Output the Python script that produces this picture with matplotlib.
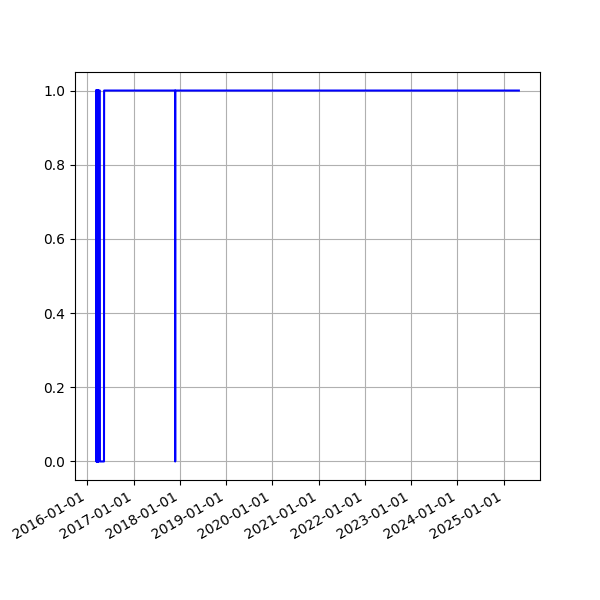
import matplotlib
matplotlib.use('Agg')
import matplotlib.pyplot as plt
import matplotlib.dates as mdates
import numpy as np
import datetime as dt

# status samples (1 = up, 0 = down)
dates = ['2016-03-12', '2016-03-14', '2016-03-15', '2016-03-17', '2016-03-18',
         '2016-03-20', '2016-03-21', '2016-03-23', '2016-03-24', '2016-03-26',
         '2016-03-27', '2016-03-29', '2016-03-30', '2016-04-01', '2016-04-02',
         '2016-04-04', '2016-04-10', '2016-04-11', '2016-05-13', '2016-05-14',
         '2017-11-25', '2017-11-26', '2017-11-27', '2025-05-01']
status = [1, 0, 1, 0, 1,
          0, 1, 0, 1, 0,
          1, 0, 1, 0, 1,
          1, 1, 0, 0, 1,
          1, 0, 1, 1]

x = [dt.datetime.strptime(d, '%Y-%m-%d') for d in dates]

fig, ax = plt.subplots(figsize=(6, 6), dpi=100)
ax.plot(x, status, 'b-')
ax.xaxis.set_major_locator(mdates.YearLocator())
ax.xaxis.set_major_formatter(mdates.DateFormatter('%Y-%m-%d'))
ax.grid(True)
fig.autofmt_xdate()
fig.savefig('out.png')
